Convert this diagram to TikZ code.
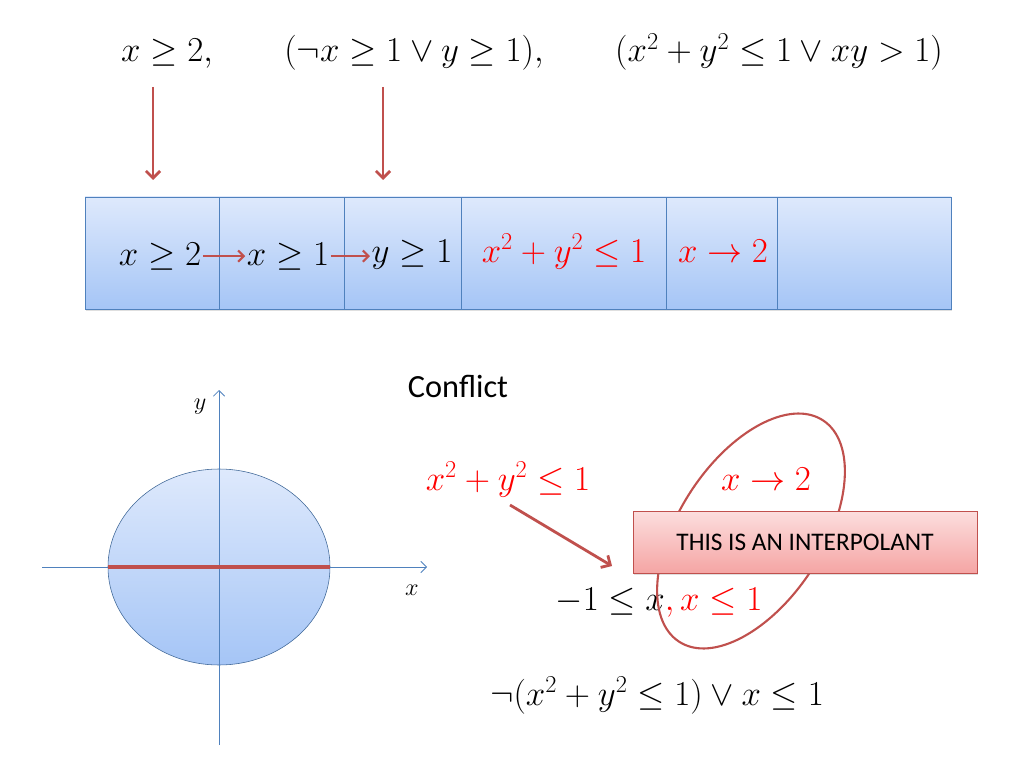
\documentclass[tikz,border=0pt]{standalone}
\usepackage{amsmath,amssymb}
\usepackage{fontspec}
\newfontfamily\slidefont{Carlito}
\usetikzlibrary{positioning}
\usetikzlibrary{arrows.meta}
\usetikzlibrary{shadows}

\definecolor{arrowred}{RGB}{192,80,77}
\definecolor{axisblue}{RGB}{79,129,189}
\definecolor{celltop}{RGB}{222,233,252}
\definecolor{cellbot}{RGB}{165,197,246}
\definecolor{pinktop}{RGB}{252,222,222}
\definecolor{pinkbot}{RGB}{245,165,164}

\begin{document}
\begin{tikzpicture}[
	mathtxt/.style={inner sep=1pt, anchor=base, font=\fontsize{24}{28}\selectfont},
	redtxt/.style={mathtxt, text=red},
	trail/.style={draw=axisblue, top color=celltop, bottom color=cellbot,
		minimum height=2.8cm, inner sep=0pt, outer sep=0pt,
		drop shadow={shadow xshift=0.6pt, shadow yshift=-1.2pt, opacity=0.25}},
	redarrow/.style={arrowred, line width=2pt, -{Straight Barb[length=5pt,width=10pt]}},
	thinarrow/.style={arrowred, line width=1.5pt, -{Straight Barb[length=4pt,width=8pt]}},
	axis/.style={axisblue, line width=0.6pt, -{Straight Barb[length=4pt,width=8pt]}},
	interpbox/.style={draw=arrowred, top color=pinktop, bottom color=pinkbot,
		minimum width=8.6cm, minimum height=1.55cm,
		font=\slidefont\fontsize{18}{22}\selectfont,
		drop shadow={shadow xshift=1pt, shadow yshift=-1.5pt, opacity=0.25}}
	]
	\useasboundingbox (0,0) rectangle (25.6,-19.2);

	% clauses
	\node[mathtxt] (cl1) at (4.175,-1.55) {$x \geq 2,$};
	\node[mathtxt] (cl2) at (10.35,-1.55) {$(\neg x \geq 1 \lor y \geq 1),$};
	\node[mathtxt] (cl3) at (19.475,-1.55) {$(x^2 + y^2 \leq 1 \lor xy > 1)$};

	\coordinate (t1) at (3.825,-2.175);
	\coordinate (h1) at (3.825,-4.5);
	\coordinate (t2) at (9.575,-2.175);
	\coordinate (h2) at (9.575,-4.5);
	\draw[redarrow] (t1) -- (h1);
	\draw[redarrow] (t2) -- (h2);

	% trail
	\node[trail, minimum width=3.35cm, anchor=west] (c1) at (2.125,-6.325) {};
	\node[trail, minimum width=3.125cm, right=0pt of c1] (c2) {};
	\node[trail, minimum width=2.925cm, right=0pt of c2] (c3) {};
	\node[trail, minimum width=5.125cm, right=0pt of c3] (c4) {};
	\node[trail, minimum width=2.775cm, right=0pt of c4] (c5) {};
	\node[trail, minimum width=4.35cm, right=0pt of c5] (c6) {};

	\node[mathtxt] (l1) at (4.0,-6.625) {$x \geq 2$};
	\node[mathtxt] (l2) at (7.2,-6.625) {$x \geq 1$};
	\node[mathtxt] (l3) at (10.3,-6.55) {$y \geq 1$};
	\node[redtxt] (l4) at (14.1,-6.55) {$x^2 + y^2 \leq 1$};
	\node[redtxt] (l5) at (18.075,-6.55) {$x \rightarrow 2$};

	\draw[thinarrow] (l1.east) -- (l2.west);
	\draw[thinarrow] (l2.east) -- (l2.east -| l3.west);

	% conflict
	\node[anchor=base, font=\slidefont\fontsize{23}{27}\selectfont] (conf) at (11.45,-9.925) {Conflict};

	% disc and axes
	\coordinate (o) at (5.475,-14.175);
	\draw[draw=axisblue!80!black, top color=celltop, bottom color=cellbot] (o) ellipse [x radius=2.775cm, y radius=2.45cm];
	\coordinate (xl) at (1.05,-14.175);
	\coordinate (xr) at (10.675,-14.175);
	\coordinate (yb) at (5.475,-18.625);
	\coordinate (yt) at (5.475,-9.75);
	\draw[axis] (xl) -- (xr);
	\draw[axis] (yb) -- (yt);
	\coordinate (sl) at (2.7,-14.175);
	\coordinate (sr) at (8.25,-14.175);
	\draw[arrowred, line width=3pt] (sl) -- (sr);
	\node[font=\fontsize{16}{19}\selectfont] (ylab) at (5.0,-10.175) {$y$};
	\node[font=\fontsize{16}{19}\selectfont] (xlab) at (10.3,-14.75) {$x$};

	% interpolation
	\node[redtxt] (lhs) at (12.7,-12.25) {$x^2 + y^2 \leq 1$};
	\node[redtxt] (rhs) at (19.15,-12.25) {$x \rightarrow 2$};
	\node[mathtxt] (mid) at (16.475,-15.25) {$-1 \leq x{\color{red},x \leq 1}$};
	\node[mathtxt] (res) at (16.425,-17.625) {$\neg(x^2 + y^2 \leq 1) \lor x \leq 1$};

	\coordinate (d1) at (12.75,-12.625);
	\coordinate (d2) at (15.3,-14.15);
	\draw[redarrow] (d1) -- (d2);

	\coordinate (ell) at (18.775,-13.275);
	\draw[arrowred, line width=1.5pt, rotate around={57:(ell)}] (ell) ellipse [x radius=3.3cm, y radius=1.8cm];

	\node[interpbox] (interp) at (20.125,-13.55) {THIS IS AN INTERPOLANT};
\end{tikzpicture}
\end{document}
